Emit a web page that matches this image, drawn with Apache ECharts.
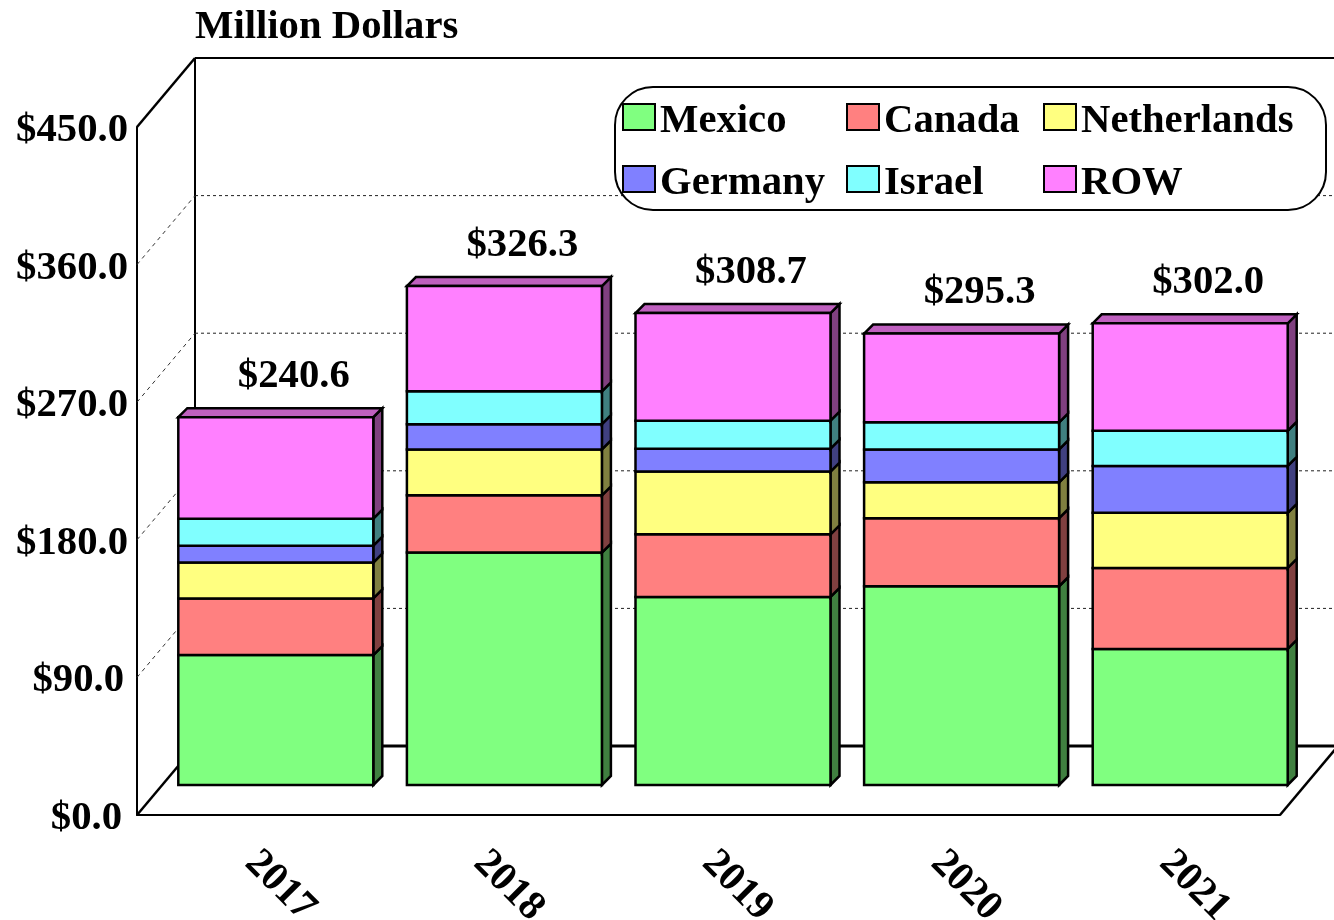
<!DOCTYPE html>
<html><head><meta charset="utf-8">
<style>html,body{margin:0;padding:0;background:#fff}#c{width:1334px;height:920px}</style>
<script src="https://cdn.jsdelivr.net/npm/echarts@6/dist/echarts.min.js"></script>
</head><body><div id="c"></div>
<script>
const years = ['2017','2018','2019','2020','2021'];
const ticks = [0,90,180,270,360,450];
const totals = [240.6,326.3,308.7,295.3,302.0];
const mexico = [85,152,123,130,89];
const canada = [37,37.5,41,44.5,53];
const netherlands = [23.5,30,41,23.5,36];
const germany = [11,16.5,15,21.5,30.7];
const israel = [17.7,21.5,18.3,17.7,23];
const row = [66.4,68.8,70.4,58.1,70.3];

const FONT = '"Liberation Serif","Times New Roman",serif';
const FS = 40.7;
const names = ['Mexico','Canada','Netherlands','Germany','Israel','ROW'];
const valuesList = [mexico,canada,netherlands,germany,israel,row];
const faces = ['#80ff80','#ff8080','#ffff80','#8080ff','#80ffff','#ff80ff'];
const sides = ['#408040','#804040','#808040','#404080','#408080','#804080'];
const topFace = '#bf60bf';
const WALL_DX = 58, WALL_DY = 69;       // depth of the chart box
const BAR_DX = 24.5, BAR_DY = 30;       // depth at which the bars stand
const BAR_W = 195, D = 9;               // bar front width and bar depth
const RIGHT_EDGE = 1340;

function stackSeries(idx){
  const data = years.map((y,i)=>{
    let base = 0;
    for(let k=0;k<idx;k++) base += valuesList[k][i];
    return [i, base, base + valuesList[idx][i]];
  });
  return {
    type:'custom', name:names[idx], z:2, data, clip:false,
    encode:{x:0,y:[1,2]},
    itemStyle:{color:faces[idx], borderColor:'#000', borderWidth:2},
    renderItem(params, api){
      const i = api.value(0);
      const b = api.coord([i, api.value(1)]);
      const t = api.coord([i, api.value(2)]);
      const x0 = b[0] + BAR_DX - BAR_W/2, x1 = x0 + BAR_W;
      const y0 = b[1] - BAR_DY, y1 = t[1] - BAR_DY;
      const lw = {stroke:'#000', lineWidth:2.5, lineJoin:'miter'};
      const kids = [
        {type:'polygon', shape:{points:[[x1,y0],[x1+D,y0-D],[x1+D,y1-D],[x1,y1]]}, style:Object.assign({fill:sides[idx]},lw)}
      ];
      if(idx === names.length-1){
        kids.push({type:'polygon', shape:{points:[[x0,y1],[x0+D,y1-D],[x1+D,y1-D],[x1,y1]]}, style:Object.assign({fill:topFace},lw)});
      }
      kids.push({type:'rect', shape:{x:x0,y:y1,width:BAR_W,height:y0-y1}, style:Object.assign({fill:faces[idx]},lw)});
      return {type:'group', children:kids};
    }
  };
}

const wallSeries = {
  type:'custom', name:'walls', z:1, clip:false, silent:true,
  data: ticks.map(v=>[0,v]), encode:{x:0,y:1},
  renderItem(params, api){
    const v = api.value(1);
    const y = api.coord([0,v])[1];
    const L = params.coordSys.x, R = L + params.coordSys.width;
    const solid = v===0 || v===ticks[ticks.length-1];
    const kids = [];
    const thin = solid ? {stroke:'#000',lineWidth:2.5} : {stroke:'#333',lineWidth:1,lineDash:[4,4]};
    kids.push({type:'line',shape:{x1:L,y1:y,x2:L+WALL_DX,y2:y-WALL_DY},style:thin});
    const h = v===0 ? {stroke:'#000',lineWidth:3} : (solid ? {stroke:'#000',lineWidth:2} : {stroke:'#222',lineWidth:1,lineDash:[3,3]});
    kids.push({type:'line',shape:{x1:L+WALL_DX,y1:y-WALL_DY,x2:RIGHT_EDGE,y2:y-WALL_DY},style:h});
    if(v===0){
      const top = api.coord([0,ticks[ticks.length-1]])[1];
      kids.push({type:'line',shape:{x1:L+WALL_DX,y1:top-WALL_DY,x2:L+WALL_DX,y2:y-WALL_DY},style:{stroke:'#000',lineWidth:2}});
      kids.push({type:'line',shape:{x1:R,y1:y,x2:R+WALL_DX,y2:y-WALL_DY},style:{stroke:'#000',lineWidth:2.5}});
    }
    return {type:'group',children:kids};
  }
};

const totalSeries = {
  type:'custom', name:'totals', z:3, clip:false, silent:true,
  data: totals.map((t,i)=>[i,t]), encode:{x:0,y:1},
  renderItem(params, api){
    const p = api.coord([api.value(0), api.value(1)]);
    return {type:'text', style:{
      x:p[0]+BAR_DX+18, y:p[1]-BAR_DY-41,
      text:'$'+api.value(1).toFixed(1),
      font:'bold '+FS+'px '+FONT, fill:'#000', textAlign:'center', textVerticalAlign:'middle'
    }};
  }
};

const labelFont = {fontFamily:FONT,fontWeight:'bold',fontSize:FS,color:'#000'};
const legendCols = [622,846,1043], legendRows = [100.5,162.5];
const legends = names.map((n,i)=>({
  data:[n], selectedMode:false, orient:'horizontal',
  left:legendCols[i%3], top:legendRows[Math.floor(i/3)], padding:0,
  itemWidth:32, itemHeight:26, icon:'rect',
  itemStyle:{borderColor:'#000',borderWidth:2},
  formatter:'{t|{name}}',
  textStyle:Object.assign({rich:{t:Object.assign({padding:[8,0,0,0]},labelFont)}},labelFont)
}));

const chart = echarts.init(document.getElementById('c'),null,{renderer:'canvas'});
chart.setOption({
  animation:false, backgroundColor:'#fff',
  title:{text:'Million Dollars',left:195,top:7,padding:0,textStyle:labelFont},
  legend:legends,
  grid:{left:137,right:54,top:127,bottom:105,containLabel:false,outerBoundsMode:'none'},
  xAxis:{type:'category',data:years,
    axisLine:{show:true,lineStyle:{color:'#000',width:2}},axisTick:{show:false},splitLine:{show:false},
    axisLabel:Object.assign({interval:0,rotate:-45,margin:42,align:'left',verticalAlign:'middle',hideOverlap:false},labelFont)},
  yAxis:{type:'value',min:0,max:450,interval:90,
    axisLine:{show:true,lineStyle:{color:'#000',width:2}},axisTick:{show:false},splitLine:{show:false},
    axisLabel:Object.assign({margin:9,
      formatter:v=>{const s='$'+v.toFixed(1); return v===0?'{a|'+s+'}':(v===90?'{b|'+s+'}':'{c|'+s+'}');},
      rich:{
        a:Object.assign({padding:[7,6,0,0]},labelFont),
        b:Object.assign({padding:[7,4,0,0]},labelFont),
        c:Object.assign({padding:[7,0,0,0]},labelFont)
      }},labelFont)},
  graphic:[{type:'rect',z:3,silent:true,shape:{x:615,y:87,width:711,height:123,r:38},
    style:{fill:'#fff',stroke:'#000',lineWidth:2}}],
  series:[wallSeries].concat(names.map((n,i)=>stackSeries(i)),[totalSeries])
});
</script></body></html>
